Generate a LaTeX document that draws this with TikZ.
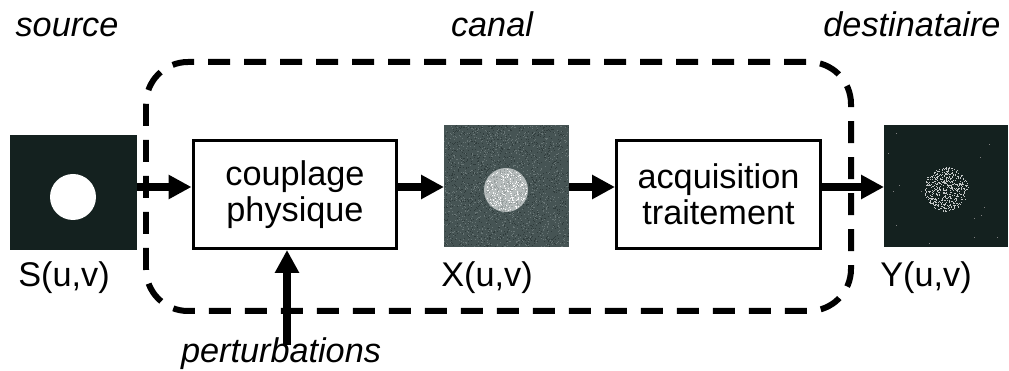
\documentclass[tikz,border=0pt]{standalone}
\usepackage{fontspec}
\setmainfont{Liberation Sans}
\usetikzlibrary{arrows.meta,positioning,calc}

\definecolor{srcdark}{RGB}{20,33,31}
\definecolor{chanbase}{RGB}{70,84,84}
\definecolor{chanlight}{RGB}{104,117,117}
\definecolor{chandark}{RGB}{48,60,60}
\definecolor{spotgray}{RGB}{182,188,188}
\definecolor{spotdark}{RGB}{150,157,157}

\begin{document}
\begin{tikzpicture}[x=0.02cm, y=-0.02cm,
	txt/.style={font=\fontsize{19.5}{20.5}\selectfont, inner sep=0},
	title/.style={font=\fontsize{19.5}{20.5}\selectfont\itshape, inner sep=0, anchor=base},
	box/.style={draw, line width=0.06cm, minimum width=4.08cm, minimum height=2.16cm,
		align=center, font=\fontsize{19.5}{20.5}\selectfont, inner sep=0},
	img/.style={inner sep=0, outer sep=0},
	flow/.style={line width=0.16cm, -{Triangle[length=0.46cm, width=0.46cm]}},
	canal/.style={line width=0.12cm, dash pattern=on 0.44cm off 0.28cm, rounded corners=0.84cm}]

	\useasboundingbox (0,0) rectangle (1009,371);

	% ---- parameters

	\def\lvl{187}
	\def\spot{22}

	% ---- the channel

	\draw[canal] (146,62) rectangle (851,311);

	% ---- source image

	\node[img, fill=srcdark, minimum width=2.54cm, minimum height=2.3cm] (src) at (73.5,192.5) {};
	\fill[white] (73,197) circle (23);

	% ---- received image (noisy)

	\node[img, fill=chanbase, minimum width=2.5cm, minimum height=2.44cm] (chan) at (506.5,186) {};
	\pgfmathsetseed{7}
	\foreach \i in {1,...,1300} {
		\pgfmathsetmacro{\px}{444+124*rnd}
		\pgfmathsetmacro{\py}{125+121*rnd}
		\fill[chanlight] (\px,\py) rectangle ++(1,1);
	}
	\foreach \i in {1,...,1300} {
		\pgfmathsetmacro{\px}{444+124*rnd}
		\pgfmathsetmacro{\py}{125+121*rnd}
		\fill[chandark] (\px,\py) rectangle ++(1,1);
	}
	\fill[spotgray] (506,190) circle (\spot);
	\foreach \i in {1,...,300} {
		\pgfmathsetmacro{\a}{360*rnd}
		\pgfmathsetmacro{\r}{(\spot-1)*sqrt(rnd)}
		\fill[spotdark] ($(506,190)+(\a:\r)$) rectangle ++(1,1);
	}
	\foreach \i in {1,...,200} {
		\pgfmathsetmacro{\a}{360*rnd}
		\pgfmathsetmacro{\r}{(\spot-1)*sqrt(rnd)}
		\fill[white!90!spotgray] ($(506,190)+(\a:\r)$) rectangle ++(1,1);
	}

	% ---- destination image (sparse)

	\node[img, fill=srcdark, minimum width=2.48cm, minimum height=2.44cm] (dst) at (946,186) {};
	\foreach \i in {1,...,520} {
		\pgfmathsetmacro{\a}{360*rnd}
		\pgfmathsetmacro{\r}{\spot*sqrt(rnd)}
		\fill[white!75!srcdark] ($(946,189)+(\a:\r)$) rectangle ++(1,1);
	}
	\foreach \i in {1,...,14} {
		\pgfmathsetmacro{\px}{886+118*rnd}
		\pgfmathsetmacro{\py}{128+115*rnd}
		\fill[gray] (\px,\py) rectangle ++(1,1);
	}

	% ---- blocks

	\node[box] (coupl) at (295,194.5) {couplage\\physique};
	\node[box] (acq) at (718.5,194.5) {acquisition\\traitement};

	% ---- arrows

	\coordinate (lv) at (0,\lvl);
	\draw[flow] (src.east |- lv) -- (coupl.west |- lv);
	\draw[flow] (coupl.east |- lv) -- (chan.west |- lv);
	\draw[flow] (chan.east |- lv) -- (acq.west |- lv);
	\draw[flow] (acq.east |- lv) -- (dst.west |- lv);

	\coordinate (pin) at (287,345);
	\draw[flow] (pin) -- (pin |- coupl.south);

	% ---- labels

	\node[txt, anchor=base] (slbl) at (64,287) {S(u,v)};
	\node[txt, anchor=base] (xlbl) at (487,287) {X(u,v)};
	\node[txt, anchor=base] (ylbl) at (926,287) {Y(u,v)};

	\node[title] (tsrc) at (67,37) {source};
	\node[title] (tcan) at (492,37) {canal};
	\node[title] (tdst) at (912,37) {destinataire};
	\node[title] (tpert) at (281,363) {perturbations};

\end{tikzpicture}
\end{document}
